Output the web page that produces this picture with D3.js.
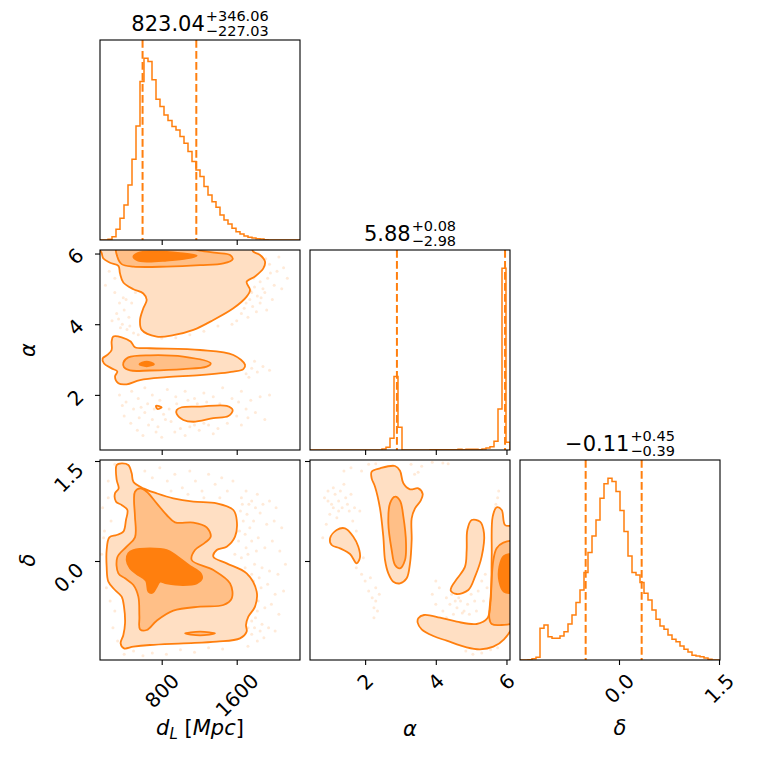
<!DOCTYPE html>
<html>
<head>
<meta charset="utf-8">
<script src="https://cdn.jsdelivr.net/npm/d3@7"></script>
<style>
  body { margin: 0; background: #fff; }
  svg { display: block; }
  text { font-family: "DejaVu Sans", sans-serif; fill: #000; }
</style>
</head>
<body>
<svg id="chart" width="760" height="760"></svg>
<script>
// ---------------- data ----------------
const dLRange = [142, 2275];
const alphaRange = [0.44, 6.1];
const deltaRange = [-1.485, 1.515];

const dLTicks = [800, 1600];
const alphaTicks = [2, 4, 6];
const deltaTicks = [0.0, 1.5];

// 50-bin histograms (relative counts)
const dLHist = [0,0,2,10,32,65,105,165,242,342, 475,545,535,480,422,400,375,358,340,330,
                310,290,265,235,210,190,160,135,115,98, 75,60,48,35,25,18,12,8,6,4, 3,1,0,0,0,0,0,0,0,0];
const alphaHist = [0,0,0,0,0,0,0,0,0,0, 0,0,0,0,0,0,0,0,3,8, 35,220,68,0,0,0,0,0,0,0,
                   1,1,1,1,1,1,1,2,1,2, 2,2,1,3,6,10,26,123,545,23];
const deltaHist = [0,0,1,4,8,95,105,70,65,65, 72,85,108,135,172,210,262,322,372,420,
                   485,528,545,535,505,448,385,312,262,255, 232,200,180,150,122,102,92,75,62,55,
                   42,32,24,14,12,10,6,2,0,0];

// 16% / 84% quantiles shown as dashed lines
const dLQuant = [596.01, 1169.10];
const alphaQuant = [2.90, 5.96];
const deltaQuant = [-0.50, 0.34];

const titles = [
  { main: "823.04", sup: "+346.06", sub: "\u2212227.03" },
  { main: "5.88", sup: "+0.08", sub: "\u22122.98" },
  { main: "\u22120.11", sup: "+0.45", sub: "\u22120.39" }
];

// contour outlines: lev 0 = outer, 1 = middle, 2 = inner
const alphaDLContours = [
  { lev: 0, pts: [[130,6.2],[160,6.01],[178,5.86],[249,5.74],[338,5.65],[355,5.44],[391,5.18],[498,4.99],
    [604,4.87],[640,4.69],[604,4.45],[569,4.12],[587,3.84],[747,3.65],[924,3.69],[1138,3.84],[1351,4.12],
    [1564,4.45],[1706,4.78],[1742,4.97],[1706,5.20],[1795,5.35],[1884,5.58],[1902,5.77],[1849,5.96],
    [1778,6.05],[1742,6.2]] },
  { lev: 0, pts: [[284,3.65],[373,3.63],[469,3.51],[515,3.35],[675,3.32],[1209,3.27],[1564,3.13],[1689,2.85],
    [1671,2.73],[1564,2.66],[1209,2.56],[853,2.50],[569,2.42],[426,2.30],[338,2.33],[302,2.52],[327,2.66],
    [266,2.75],[185,2.89],[170,3.03],[220,3.13],[266,3.27],[266,3.51]] },
  { lev: 0, pts: [[960,1.57],[1013,1.65],[1209,1.67],[1493,1.69],[1557,1.57],[1511,1.40],[1351,1.34],
    [1138,1.24],[1031,1.29],[960,1.46]] },
  { lev: 0, pts: [[739,1.69],[800,1.65],[754,1.60]] },
  { lev: 1, pts: [[320,6.2],[327,5.91],[373,5.70],[498,5.63],[853,5.63],[1209,5.67],[1458,5.72],[1557,5.84],
    [1529,5.96],[1387,6.02],[1209,6.08],[1067,6.2]] },
  { lev: 1, pts: [[391,2.91],[444,3.06],[675,3.12],[1031,3.08],[1323,2.89],[1280,2.80],[1031,2.73],[675,2.69],
    [462,2.69],[398,2.78]] },
  { lev: 2, pts: [[498,5.91],[551,6.02],[711,6.05],[995,6.01],[1173,5.94],[1067,5.86],[853,5.80],[640,5.77],[533,5.82]] },
  { lev: 2, pts: [[562,2.87],[640,2.94],[718,2.87],[640,2.81]] }
];

const deltaDLContours = [
  { lev: 0, pts: [[320,1.44],[373,1.465],[444,1.44],[480,1.315],[498,1.19],[604,1.09],[747,1.015],[924,0.94],
    [1138,0.89],[1387,0.865],[1564,0.765],[1600,0.615],[1582,0.365],[1493,0.215],[1387,0.165],[1351,0.065],
    [1493,-0.035],[1706,-0.185],[1813,-0.46],[1795,-0.685],[1724,-0.835],[1699,-0.96],[1706,-1.06],[1635,-1.16],
    [1387,-1.21],[1031,-1.235],[675,-1.26],[498,-1.285],[398,-1.31],[362,-1.235],[391,-1.11],[409,-0.935],
    [398,-0.685],[373,-0.535],[302,-0.435],[231,-0.31],[213,-0.085],[213,0.165],[242,0.355],[320,0.39],
    [391,0.44],[419,0.615],[434,0.765],[373,0.84],[313,0.89],[302,1.015],[341,1.09],[320,1.215]] },
  { lev: 1, pts: [[515,1.04],[569,1.09],[640,1.04],[747,0.865],[853,0.69],[942,0.58],[1138,0.575],[1280,0.505],
    [1323,0.365],[1262,0.275],[1155,0.165],[1120,0.015],[1351,-0.135],[1529,-0.335],[1547,-0.56],[1458,-0.66],
    [1209,-0.685],[924,-0.745],[747,-0.895],[640,-1.035],[569,-1.025],[562,-0.835],[551,-0.535],[498,-0.36],
    [409,-0.26],[338,-0.185],[327,0.055],[426,0.215],[515,0.355],[515,0.665],[505,0.915]] },
  { lev: 1, pts: [[1049,-1.085],[1209,-1.06],[1369,-1.085],[1209,-1.115]] },
  { lev: 2, pts: [[444,0.115],[498,0.165],[675,0.19],[853,0.165],[960,0.075],[1102,-0.075],[1209,-0.175],
    [1230,-0.26],[1173,-0.335],[1031,-0.36],[853,-0.335],[782,-0.31],[747,-0.385],[704,-0.475],[658,-0.46],
    [633,-0.295],[533,-0.195],[462,-0.11],[426,0.015]] }
];

const deltaAlphaContours = [
  { lev: 0, pts: [[1.006,0.34],[1.195,0.465],[1.43,0.49],[1.666,0.365],[1.808,0.215],[1.855,0.055],[1.76,-0.035],
    [1.572,0.105],[1.289,0.19],[1.053,0.24]] },
  { lev: 0, pts: [[2.185,1.34],[2.42,1.39],[2.846,1.425],[2.987,1.355],[3.082,1.165],[3.27,1.075],[3.506,1.09],
    [3.629,1.005],[3.572,0.905],[3.412,0.79],[3.317,0.64],[3.317,0.315],[3.27,-0.035],[3.176,-0.26],[2.987,-0.335],
    [2.798,-0.31],[2.657,-0.185],[2.563,0.015],[2.515,0.365],[2.421,0.79],[2.28,1.115],[2.185,1.24]] },
  { lev: 0, pts: [[4.45,-0.385],[4.61,-0.26],[4.827,-0.085],[4.874,0.165],[4.893,0.465],[5.015,0.615],[5.251,0.59],
    [5.365,0.415],[5.298,0.065],[5.11,-0.235],[4.921,-0.435],[4.591,-0.495],[4.421,-0.445]] },
  { lev: 0, pts: [[3.506,-0.86],[3.666,-0.81],[4.119,-0.85],[4.591,-0.91],[5.157,-0.945],[5.459,-0.86],[5.553,-0.585],
    [5.582,0.065],[5.61,0.665],[5.723,0.805],[5.865,0.765],[5.959,0.54],[6.2,0.505],[6.2,-0.935],[5.93,-1.175],
    [5.629,-1.285],[5.251,-1.325],[4.874,-1.295],[4.308,-1.195],[3.931,-1.125],[3.6,-1.025],[3.487,-0.925]] },
  { lev: 1, pts: [[2.704,0.865],[2.846,0.965],[2.987,0.905],[3.082,0.665],[3.157,0.265],[3.129,0.015],[2.987,-0.11],
    [2.846,-0.06],[2.751,0.165],[2.657,0.565]] },
  { lev: 1, pts: [[5.515,-0.86],[5.553,-0.535],[5.629,0.015],[5.723,0.19],[5.912,0.275],[6.2,0.29],[6.2,-0.91],
    [5.865,-0.96],[5.582,-0.945]] },
  { lev: 2, pts: [[5.8,-0.085],[5.93,0.075],[6.2,0.09],[6.2,-0.46],[5.93,-0.46],[5.8,-0.31]] }
];

// faint samples visible outside the outer contours
const alphaDLPoints = [
  [1800,5.8],[1870,5.6],[1950,5.7],[2030,5.5],[2100,5.6],[1780,5.3],[1850,5.2],[1930,5.3],[2000,5.1],[2080,5.0],
  [1760,4.9],[1820,4.8],[1900,4.9],[1980,4.7],[1700,4.6],[1770,4.5],[1850,4.6],[1920,4.4],[1650,4.3],[1720,4.2],
  [1600,4.1],[2050,5.9],[1830,6.0],[1820,5.45],[1790,5.05],[1880,5.0],[1740,4.7],[1810,4.35],[1680,4.45],
  [1960,5.45],[1910,5.85],[1750,4.95],[2140,5.3],[1840,5.65],[1860,4.75],
  [300,4.9],[350,4.6],[400,4.4],[450,4.2],[380,4.0],[430,3.85],[500,3.75],[550,3.7],[320,4.3],[360,3.9],
  [480,4.6],[520,4.9],[300,5.3],[240,5.5],[200,5.1],[270,4.1],[420,4.7],[460,3.95],[340,4.15],[390,4.75],
  [800,3.6],[950,3.62],[1100,3.7],[1250,3.8],[1400,3.95],[1550,4.0],
  [1700,2.6],[1760,2.75],[1820,2.65],[1880,2.8],[1950,2.7],[1790,2.95],[1730,2.5],
  [350,2.0],[420,1.8],[480,2.1],[550,1.9],[620,2.2],[700,2.0],[780,1.85],[860,2.15],[950,1.95],[1050,2.1],
  [1150,1.9],[1250,2.05],[1350,1.95],[1450,2.2],[1550,1.9],[1650,2.1],[1750,1.85],[1850,1.95],[1950,2.0],
  [400,1.4],[470,1.2],[540,1.0],[620,1.5],[700,1.3],[760,1.1],[820,1.45],[880,1.6],[900,1.25],[940,0.95],
  [1000,1.05],[1100,1.1],[1200,1.0],[1300,1.15],[1400,1.05],[1500,1.2],[1600,1.4],[1700,1.6],[1800,1.5],
  [1900,1.3],[650,1.75],[500,1.6],[380,1.7],[1650,1.15],[600,0.85],[800,0.8],[1050,0.85],[1350,0.9],
  [560,1.35],[660,1.15],[720,1.6],[840,1.3],[960,1.75],[1080,1.85],[1180,1.75],[1280,1.8],[1420,1.75],
  [1620,1.8],[1720,1.35],[580,1.65],[740,0.95],[1150,1.15],[1250,1.2]
];

const deltaDLPoints = [
  [1650,0.95],[1700,1.05],[1760,0.9],[1820,1.0],[1880,0.85],[1950,0.9],[2020,0.8],
  [1640,0.75],[1710,0.7],[1780,0.6],[1850,0.72],[1920,0.55],[2000,0.6],[2080,0.5],
  [1630,0.45],[1690,0.4],[1760,0.3],[1830,0.35],[1900,0.2],[1980,0.3],[2060,0.15],
  [1580,0.1],[1650,0.05],[1720,0.1],[1790,-0.05],[1870,-0.1],[1950,-0.15],[2040,-0.2],[2120,-0.05],
  [1780,-0.3],[1860,-0.4],[1930,-0.35],[2010,-0.5],[2100,-0.45],
  [1830,-0.6],[1900,-0.7],[1970,-0.65],[2050,-0.8],
  [1800,-0.85],[1870,-0.95],[1940,-1.0],[2010,-1.05],
  [1760,-1.1],[1820,-1.2],[1890,-1.15],[1720,-1.28],
  [1740,-0.75],[1760,-0.9],[1720,-1.0],[1780,-0.5],
  [1670,0.6],[1740,0.5],[1700,0.2],[1620,0.3],[1810,0.15],[1690,-0.1],[1760,-0.2],[1840,-0.25],
  [1820,-0.75],[1790,-1.0],[1850,-1.05],[1660,0.85],[1730,0.85],[1800,0.8],
  [620,1.35],[700,1.25],[780,1.4],[860,1.2],[940,1.3],[1020,1.1],[1100,1.35],[1160,1.2],[1230,1.05],
  [1300,1.3],[1370,1.15],[1440,1.25],[1500,1.05],[1560,1.2],[1080,1.0],[1250,0.95],[900,1.05],[1420,0.95],
  [170,0.8],[230,0.95],[260,0.6],[190,0.45],[160,0.1],[210,-0.4],[250,-0.6],[300,-0.75],[280,-1.0],
  [330,-1.2],[180,0.35],[230,1.2],[300,1.45],
  [400,-1.4],[500,-1.35],[600,-1.42],[700,-1.38],[850,-1.4],[1000,-1.33],[1150,-1.37],[1300,-1.3],[1450,-1.32]
];

const deltaAlphaPoints = [
  [0.85,0.95],[0.95,1.05],[1.05,0.85],[1.15,1.0],[1.25,0.9],[1.35,0.8],[1.45,0.95],[1.55,0.75],[1.0,0.7],
  [1.2,0.65],[1.65,0.6],[1.75,0.45],[0.9,0.55],[1.1,1.1],[1.4,1.15],[1.6,1.0],[1.85,0.75],[0.8,0.35],
  [0.95,0.9],[1.3,1.05],[1.5,0.85],[1.1,0.8],[1.7,0.8],[1.25,0.75],
  [1.75,-0.1],[1.9,-0.2],[2.0,-0.3],[2.1,-0.45],[2.2,-0.55],[2.3,-0.6],[2.35,-0.75],[2.25,-0.85],[2.4,-0.5],
  [1.95,0.05],[2.15,-0.25],[2.3,-0.4],[2.25,-0.7],
  [1.6,1.4],[1.9,1.35],[2.1,1.45],[3.3,1.45],[3.6,1.42],[3.9,1.48],[4.2,1.47],[4.35,1.46],[1.4,1.35],
  [2.3,1.46],[3.4,1.3],[3.5,1.33],
  [3.9,-0.5],[4.0,-0.65],[4.1,-0.4],[4.2,-0.75],[4.3,-0.55],[4.4,-0.65],[4.5,-0.8],[4.6,-0.7],[4.7,-0.6],
  [4.8,-0.75],[4.9,-0.65],[5.0,-0.5],[5.1,-0.6],[5.2,-0.45],[5.3,-0.3],[5.4,-0.2],[4.0,-0.3],[4.3,-0.85],
  [4.65,-0.55],[5.35,-0.6],[5.45,-0.4],[4.55,-0.6],[4.75,-0.78],[4.95,-0.8],[5.15,-0.75],[4.45,-0.5],
  [4.85,-1.35],[5.05,-1.4],[5.3,-1.38],[5.55,-1.33],[5.75,-1.3],
  [5.7,0.85],[5.75,0.95],[5.78,1.05],[5.68,0.8]
];

// ---------------- drawing ----------------
const C1 = "#ff7f0e";
const fillCols = ["#ffdfc3", "#ffbf87", "#ff7f0e"];
const cols = [100, 310, 520], rows = [40, 250, 460], size = 200;

const svg = d3.select("#chart");
svg.append("rect").attr("width", 760).attr("height", 760).attr("fill", "#fff");

const ranges = [dLRange, alphaRange, deltaRange];
const xs = ranges.map((r, i) => d3.scaleLinear().domain(r).range([cols[i], cols[i] + size]));
const ys = ranges.map((r, i) => d3.scaleLinear().domain(r).range([rows[i] + size, rows[i]]));

function clipFor(id, i, j) {
  svg.append("clipPath").attr("id", id).append("rect")
    .attr("x", cols[j]).attr("y", rows[i]).attr("width", size).attr("height", size);
  return svg.append("g").attr("clip-path", `url(#${id})`);
}

function histPanel(i, counts, quants) {
  const r = ranges[i], sx = xs[i];
  const y = d3.scaleLinear().domain([0, 1.1 * d3.max(counts)]).range([rows[i] + size, rows[i]]);
  const w = (r[1] - r[0]) / counts.length;
  const pts = [[r[0], 0]];
  counts.forEach((c, k) => { pts.push([r[0] + k * w, c]); pts.push([r[0] + (k + 1) * w, c]); });
  pts.push([r[1], 0]);
  const g = clipFor("clipH" + i, i, i);
  g.append("path")
    .attr("d", d3.line().x(d => sx(d[0])).y(d => y(d[1]))(pts))
    .attr("fill", "none").attr("stroke", C1).attr("stroke-width", 1.5);
  g.selectAll(".q").data(quants).enter().append("line")
    .attr("x1", d => sx(d)).attr("x2", d => sx(d))
    .attr("y1", rows[i]).attr("y2", rows[i] + size)
    .attr("stroke", C1).attr("stroke-width", 2).attr("stroke-dasharray", "7.7,3.3");
}

function pairPanel(i, j, contours, points) {
  const sx = xs[j], sy = ys[i];
  const g = clipFor("clipP" + i + j, i, j);
  g.selectAll(".pt").data(points).enter().append("circle")
    .attr("cx", d => sx(d[0])).attr("cy", d => sy(d[1])).attr("r", 1.5)
    .attr("fill", C1).attr("fill-opacity", 0.16);
  const line = d3.line().x(d => sx(d[0])).y(d => sy(d[1])).curve(d3.curveCatmullRomClosed.alpha(0.5));
  const sorted = contours.slice().sort((a, b) => a.lev - b.lev);
  g.selectAll(".cf").data(sorted).enter().append("path")
    .attr("d", d => line(d.pts)).attr("fill", d => fillCols[d.lev]).attr("stroke", "none");
  g.selectAll(".cl").data(sorted).enter().append("path")
    .attr("d", d => line(d.pts)).attr("fill", "none").attr("stroke", C1).attr("stroke-width", 1.8);
}

histPanel(0, dLHist, dLQuant);
histPanel(1, alphaHist, alphaQuant);
histPanel(2, deltaHist, deltaQuant);
pairPanel(1, 0, alphaDLContours, alphaDLPoints);
pairPanel(2, 0, deltaDLContours, deltaDLPoints);
pairPanel(2, 1, deltaAlphaContours, deltaAlphaPoints);

// spines
const panels = [[0,0],[1,0],[1,1],[2,0],[2,1],[2,2]];
svg.selectAll(".spine").data(panels).enter().append("rect")
  .attr("x", d => cols[d[1]]).attr("y", d => rows[d[0]]).attr("width", size).attr("height", size)
  .attr("fill", "none").attr("stroke", "#000").attr("stroke-width", 1.1);

// ticks
const tickSets = [dLTicks, alphaTicks, deltaTicks];
const fmts = [d3.format("d"), d3.format("d"), d3.format(".1f")];

function ticksBottom(i, j) {
  const g = svg.append("g").attr("transform", `translate(0,${rows[i] + size})`)
    .call(d3.axisBottom(xs[j]).tickValues(tickSets[j]).tickSize(5).tickFormat(""));
  g.select(".domain").remove();
  g.selectAll(".tick text").remove();
  g.selectAll(".tick line").attr("stroke", "#000").attr("stroke-width", 1.1);
}
function ticksLeft(i, j) {
  const g = svg.append("g").attr("transform", `translate(${cols[j]},0)`)
    .call(d3.axisLeft(ys[i]).tickValues(tickSets[i]).tickSize(5).tickFormat(""));
  g.select(".domain").remove();
  g.selectAll(".tick text").remove();
  g.selectAll(".tick line").attr("stroke", "#000").attr("stroke-width", 1.1);
}
panels.forEach(([i, j]) => {
  ticksBottom(i, j);
  if (i !== j) ticksLeft(i, j);
});

// rotated tick labels
function xTickLabels(j) {
  tickSets[j].forEach(t => {
    const txt = svg.append("text").attr("font-size", 20).attr("text-anchor", "middle").text(fmts[j](t));
    const w = txt.node().getComputedTextLength();
    const px = xs[j](t) + 5.2, py = rows[2] + size + 12 + 0.354 * w + 10.3;
    txt.attr("x", px).attr("y", py).attr("transform", `rotate(-45,${px},${py})`);
  });
}
function yTickLabels(i) {
  tickSets[i].forEach(t => {
    const txt = svg.append("text").attr("font-size", 20).attr("text-anchor", "end").text(fmts[i](t));
    const w = txt.node().getComputedTextLength();
    const px = cols[0] - 15, py = ys[i](t) - 1.4 + 0.37 * w;
    txt.attr("x", px).attr("y", py).attr("transform", `rotate(-45,${px},${py})`);
  });
}
[0, 1, 2].forEach(xTickLabels);
[1, 2].forEach(yTickLabels);

// titles with super/subscripts stacked after the value
function title(i, t) {
  const cx = cols[i] + size / 2, by = rows[i] - 9.5;
  const g = svg.append("g");
  const m = g.append("text").attr("font-size", 21).text(t.main);
  const sp = g.append("text").attr("font-size", 14.5).text(t.sup);
  const sb = g.append("text").attr("font-size", 14.5).text(t.sub);
  const wm = m.node().getComputedTextLength();
  const ws = Math.max(sp.node().getComputedTextLength(), sb.node().getComputedTextLength());
  const x0 = cx - (wm + ws + 1) / 2;
  m.attr("x", x0).attr("y", by);
  sp.attr("x", x0 + wm + 1).attr("y", by - 9.8);
  sb.attr("x", x0 + wm + 1).attr("y", by + 5.9);
}
titles.forEach((t, i) => title(i, t));

// axis labels
const xl = svg.append("text").attr("x", cols[0] + size / 2).attr("y", 735)
  .attr("font-size", 21).attr("text-anchor", "middle");
xl.append("tspan").attr("font-style", "italic").text("d");
xl.append("tspan").attr("font-style", "italic").attr("font-size", 15).attr("dy", 4).text("L");
xl.append("tspan").attr("dy", -4).text(" [");
xl.append("tspan").attr("font-style", "italic").text("Mpc");
xl.append("tspan").text("]");

svg.append("text").attr("x", cols[1] + size / 2).attr("y", 736).attr("font-size", 21)
  .attr("font-style", "italic").attr("text-anchor", "middle").text("\u03b1");
svg.append("text").attr("x", cols[2] + size / 2).attr("y", 735).attr("font-size", 21)
  .attr("font-style", "italic").attr("text-anchor", "middle").text("\u03b4");

svg.append("text").attr("font-size", 21).attr("font-style", "italic").attr("text-anchor", "middle")
  .attr("transform", `translate(35,${rows[1] + size / 2}) rotate(-90)`).text("\u03b1");
svg.append("text").attr("font-size", 21).attr("font-style", "italic").attr("text-anchor", "middle")
  .attr("transform", `translate(35,${rows[2] + size / 2}) rotate(-90)`).text("\u03b4");
</script>
</body>
</html>
